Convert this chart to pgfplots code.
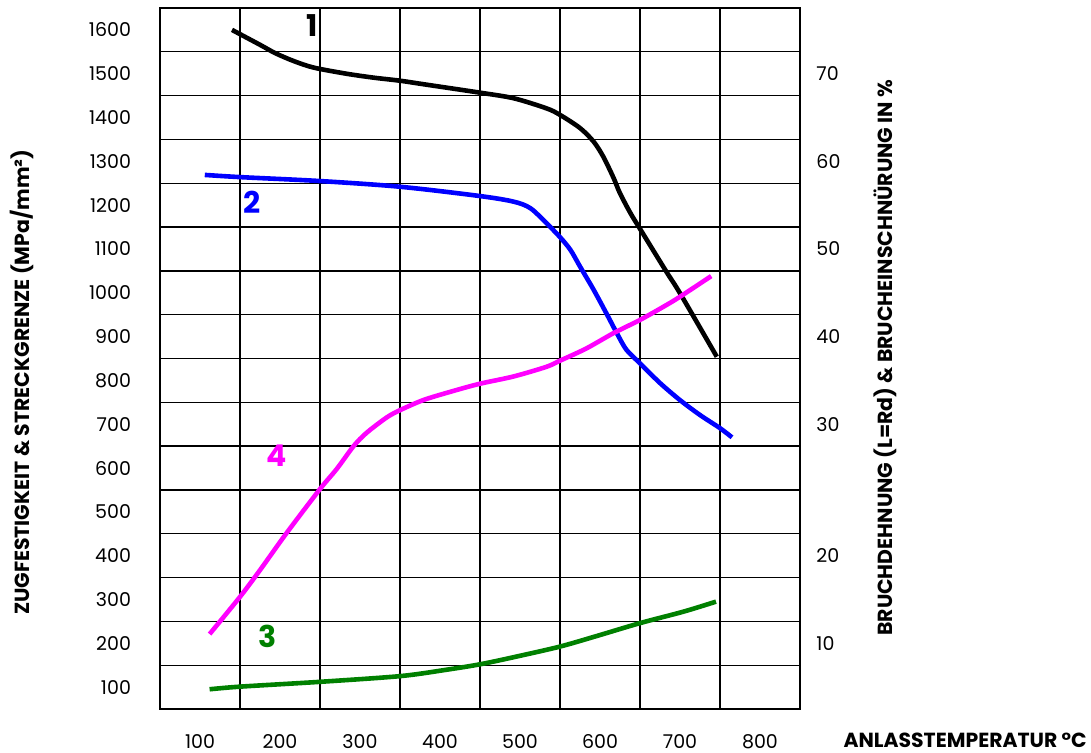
\documentclass[border=0pt]{standalone}
\usepackage{fontspec}
\setmainfont{Poppins}
\usepackage{pgfplots}
\pgfplotsset{compat=1.18}
\definecolor{cblue}{RGB}{0,0,255}
\definecolor{cmag}{RGB}{255,0,255}
\definecolor{cgreen}{RGB}{0,128,0}

\pgfplotsset{
  base/.style={
    at={(80pt,22pt)}, anchor=south west,
    scale only axis, width=320pt, height=350.5pt,
    xmin=50, xmax=850, ymin=50, ymax=1650,
    major tick length=0pt, minor tick length=0pt,
    /pgf/number format/assume math mode=true,
    /pgf/number format/1000 sep={},
    tick label style={font=\fontsize{9.5}{11}\selectfont},
    label style={font=\bfseries\fontsize{10.2}{12}\selectfont},
  }
}

\begin{document}
\begin{tikzpicture}
\path[use as bounding box] (0,0) rectangle (545.5pt,376.5pt);

\begin{axis}[
  base,
  xtick={100,200,...,800}, ytick={100,200,...,1600},
  minor xtick={50,150,...,850}, minor ytick={50,150,...,1650},
  xminorgrids=true, yminorgrids=true,
  minor grid style={black, line width=0.65pt},
  axis line style={line width=0.65pt},
  yticklabel style={xshift=-11pt},
  xticklabel style={yshift=-9pt},
  ylabel={ZUGFESTIGKEIT \& STRECKGRENZE (MPa/mm²)},
  ylabel style={at={(axis description cs:-0.2156,0.466)}, anchor=center},
  xlabel={ANLASSTEMPERATUR °C},
  xlabel style={at={(axis description cs:1.258,-0.044)}, anchor=center},
]
% 1
\addplot[black, line width=2.3pt, smooth] coordinates {
 (140,1600)(175,1566)(194,1547)(217,1529)(242,1514)(283,1500)(317,1491)
 (350,1484)(383,1475)(449,1457)(492,1444)(533,1421)(550,1406)(575,1376)
 (592,1345)(604,1311)(617,1262)(625,1227)(638,1182)(650,1146)(683,1048)
 (700,999)(746,854)
};
% 2
\addplot[cblue, line width=2.3pt, smooth] coordinates {
 (106,1269)(150,1264)(250,1255)(350,1242)(449,1221)(492,1208)(513,1193)
 (533,1159)(550,1127)(563,1098)(575,1060)(592,1007)(608,953)(621,908)
 (633,870)(650,839)(675,794)(700,755)(725,721)(750,691)(765,670)
};
% 4
\addplot[cmag, line width=2.3pt, smooth] coordinates {
 (112,221)(150,306)(175,367)(208,451)(250,552)(271,598)(292,650)(308,680)
 (333,715)(350,732)(379,755)(413,774)(449,792)(492,809)(533,831)(550,845)
 (583,873)(617,908)(650,938)(683,972)(700,991)(739,1038)
};
% 3
\addplot[cgreen, line width=2.3pt, smooth] coordinates {
 (112,95)(150,101)(250,112)(350,125)(406,139)(450,152)(494,169)(549,192)
 (593,215)(650,246)(704,272)(745,295)
};
\node[font=\bfseries\fontsize{15}{15}\selectfont, text=black] at (axis cs:240,1609) {1};
\node[font=\bfseries\fontsize{15}{15}\selectfont, text=cblue] at (axis cs:165,1207) {2};
\node[font=\bfseries\fontsize{15}{15}\selectfont, text=cmag] at (axis cs:196,628) {4};
\node[font=\bfseries\fontsize{15}{15}\selectfont, text=cgreen] at (axis cs:185,215) {3};
\end{axis}

\begin{axis}[
  base,
  hide x axis,
  axis y line*=right,
  y axis line style={draw=none},
  ytick={200,400,700,900,1100,1300,1500},
  yticklabels={10,20,30,40,50,60,70},
  yticklabel style={xshift=4.7pt},
  ylabel={BRUCHDEHNUNG (L=Rd) \& BRUCHEINSCHNÜRUNG IN \%},
  ylabel style={at={(axis description cs:1.133,0.501)}, anchor=center, rotate=0},
]
\end{axis}
\end{tikzpicture}
\end{document}
